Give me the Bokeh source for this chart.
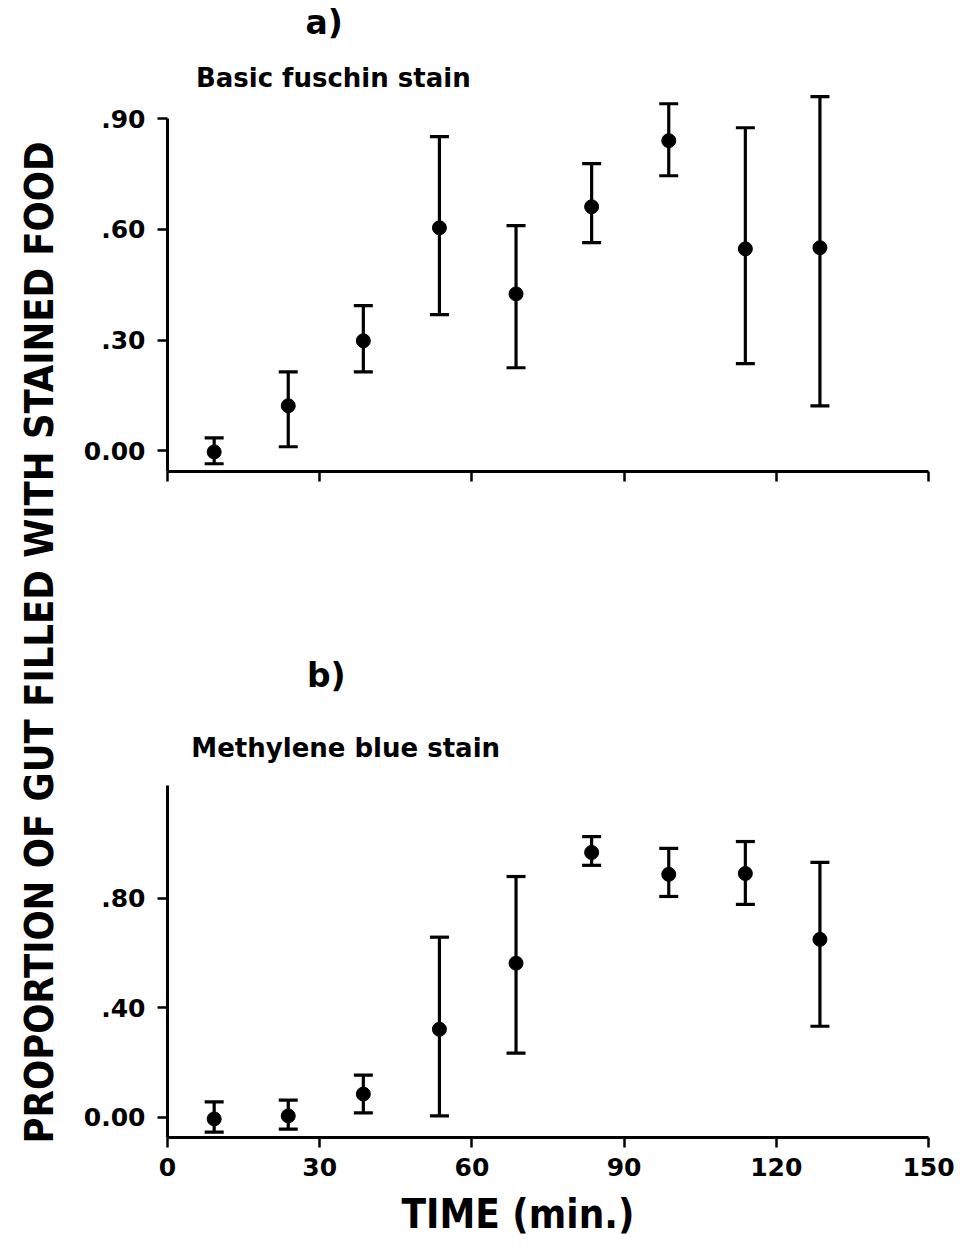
import math
from bokeh.plotting import figure
from bokeh.models import (ColumnDataSource, Whisker, TeeHead, Label, Range1d,
                          FixedTicker, Title)
from bokeh.layouts import row, column
from bokeh.embed import file_html
from bokeh.resources import INLINE

# ---------------- data ----------------
time_min = [9.2, 23.8, 38.6, 53.6, 68.7, 83.6, 98.8, 113.9, 128.6]

fuchsin_mean = [-0.003, 0.122, 0.298, 0.604, 0.425, 0.661, 0.840, 0.547, 0.550]
fuchsin_upper = [0.035, 0.214, 0.393, 0.851, 0.610, 0.778, 0.940, 0.875, 0.959]
fuchsin_lower = [-0.035, 0.011, 0.214, 0.369, 0.225, 0.564, 0.745, 0.236, 0.122]

methylene_mean = [-0.007, 0.004, 0.084, 0.321, 0.563, 0.968, 0.888, 0.891, 0.650]
methylene_upper = [0.055, 0.062, 0.153, 0.658, 0.880, 1.026, 0.983, 1.008, 0.932]
methylene_lower = [-0.055, -0.044, 0.015, 0.004, 0.234, 0.921, 0.807, 0.778, 0.332]

x_ticks = [0, 30, 60, 90, 120, 150]
a_ticks = [0.0, 0.3, 0.6, 0.9]
a_tick_labels = ["0.00", ".30", ".60", ".90"]
b_ticks = [0.0, 0.4, 0.8]
b_tick_labels = ["0.00", ".40", ".80"]

FONT = "DejaVu Sans"
COND = "DejaVu Sans Condensed"


def style_axes(p, yticks, ylabels, ybounds, show_x_labels):
    p.xaxis.ticker = FixedTicker(ticks=x_ticks)
    p.yaxis.ticker = FixedTicker(ticks=yticks)
    p.yaxis.bounds = ybounds
    p.yaxis.major_label_overrides = {t: l for t, l in zip(yticks, ylabels)}
    if show_x_labels:
        p.xaxis.major_label_overrides = {t: str(t) for t in x_ticks}
    else:
        p.xaxis.major_label_overrides = {t: "" for t in x_ticks}
    for ax in (p.xaxis, p.yaxis):
        ax.axis_line_width = 3
        ax.axis_line_color = "black"
        ax.major_tick_line_width = 2.5
        ax.major_tick_line_color = "black"
        ax.major_tick_out = 10
        ax.major_tick_in = 0
        ax.minor_tick_line_color = None
        ax.major_label_text_font = FONT
        ax.major_label_text_font_style = "bold"
        ax.major_label_text_font_size = "25px"
        ax.major_label_text_color = "black"
    p.yaxis.major_label_standoff = 12
    p.xaxis.major_label_standoff = 10
    p.xgrid.visible = False
    p.ygrid.visible = False
    p.outline_line_color = None
    p.background_fill_color = "white"
    p.border_fill_color = "white"


def add_series(p, mean, upper, lower):
    src = ColumnDataSource(dict(x=time_min, y=mean, upper=upper, lower=lower))
    w = Whisker(source=src, base="x", upper="upper", lower="lower",
                dimension="height", line_width=3.2, line_color="black",
                upper_head=TeeHead(size=19, line_width=3.2, line_color="black"),
                lower_head=TeeHead(size=19, line_width=3.2, line_color="black"))
    p.add_layout(w)
    p.scatter("x", "y", source=src, size=14, color="black")


def text_label(p, x, y, text, size, align="left", font=FONT):
    p.add_layout(Label(x=x, y=y, text=text, text_align=align,
                       text_baseline="middle", text_font=font,
                       text_font_style="bold", text_font_size=size,
                       text_color="black"))


# ---------------- left label strip ----------------
lab = figure(width=80, height=1249, x_range=Range1d(0, 80),
             y_range=Range1d(1249, 0), x_axis_type=None, y_axis_type=None,
             toolbar_location=None, output_backend="svg",
             min_border=0, outline_line_color=None)
lab.xgrid.visible = False
lab.ygrid.visible = False
lab.add_layout(Label(x=38, y=642, text="PROPORTION OF GUT FILLED WITH STAINED FOOD",
                     angle=math.pi / 2, text_align="center", text_baseline="middle",
                     text_font=COND, text_font_style="bold",
                     text_font_size="39.5px", text_color="black"))

# ---------------- panel a ----------------
pa = figure(width=883, height=600, x_range=Range1d(0, 150),
            y_range=Range1d(-0.056, 1.2196), toolbar_location=None,
            output_backend="svg", min_border_left=86, min_border_right=35,
            min_border_top=0, min_border_bottom=129)
style_axes(pa, a_ticks, a_tick_labels, (-0.056, 0.90), False)
add_series(pa, fuchsin_mean, fuchsin_upper, fuchsin_lower)
text_label(pa, 30.9, 1.16, "a)", "33px", align="center")
text_label(pa, 5.6, 1.011, "Basic fuschin stain", "26px")

# ---------------- panel b ----------------
pb = figure(width=883, height=649, x_range=Range1d(0, 150),
            y_range=Range1d(-0.075, 1.890), toolbar_location=None,
            output_backend="svg", min_border_left=86, min_border_right=35,
            min_border_top=0, min_border_bottom=112)
style_axes(pb, b_ticks, b_tick_labels, (-0.075, 1.213), True)
add_series(pb, methylene_mean, methylene_upper, methylene_lower)
text_label(pb, 31.3, 1.615, "b)", "33px", align="center")
text_label(pb, 4.7, 1.352, "Methylene blue stain", "26px")
pb.add_layout(Title(text="TIME (min.)", align="left", offset=234, standoff=21,
                    text_font=COND, text_font_style="bold",
                    text_font_size="40px", text_color="black"), "below")

layout = row(lab, column(pa, pb, spacing=0), spacing=0)

open("out.html", "w").write(file_html(layout, INLINE))
